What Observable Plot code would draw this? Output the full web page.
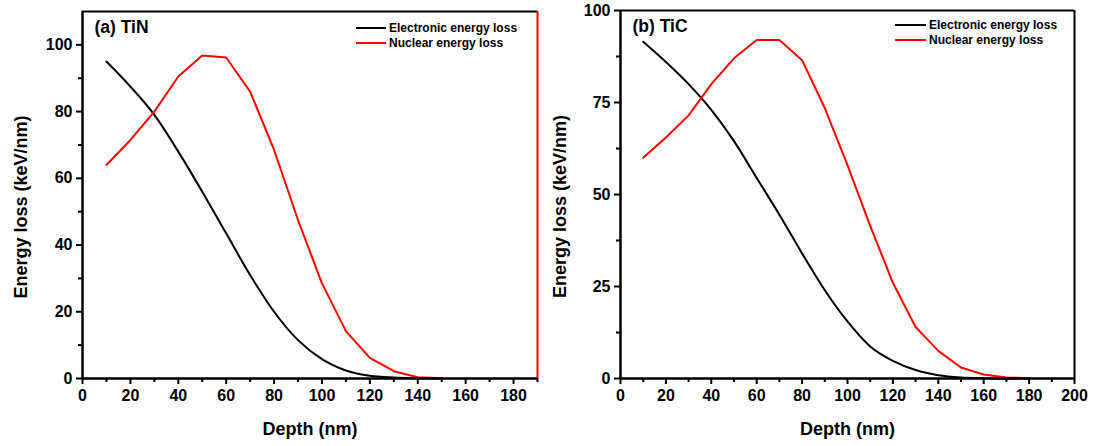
<!DOCTYPE html>
<html>
<head>
<meta charset="utf-8">
<script src="https://cdn.jsdelivr.net/npm/d3@7"></script>
<script src="https://cdn.jsdelivr.net/npm/@observablehq/plot@0.6"></script>
<style>
  body { margin: 0; background: white; }
  #wrap { position: relative; width: 1093px; height: 446px; overflow: hidden; font-family: "Liberation Sans", Arial, sans-serif; }
  .panel { position: absolute; top: 0; }
  .legend { position: absolute; font: bold 12px "Liberation Sans", Arial, sans-serif; color: #000; }
  .legend div { display: flex; align-items: center; height: 15px; white-space: nowrap; }
  .legend span.sw { display: inline-block; height: 2px; margin-right: 3px; }
</style>
</head>
<body>
<div id="wrap"></div>
<script>
// ---- Data ----
const seriesNames = ["Electronic energy loss", "Nuclear energy loss"];
const seriesColors = ["#000000", "#ff0000"];

// (a) TiN
const depthTiN = [10, 20, 30, 40, 50, 60, 70, 80, 90, 100, 110, 120, 130, 140, 150];
const elecTiN  = [95, 87.5, 79, 68, 56, 43.5, 31, 20, 11.5, 5.8, 2.4, 0.8, 0.3, 0.1, 0];
const nuclTiN  = [64, 71.5, 80, 90.5, 96.8, 96.2, 86, 68.5, 47.5, 28.5, 14.2, 6.2, 2.2, 0.4, 0.1];
const xTicksTiN = [0, 20, 40, 60, 80, 100, 120, 140, 160, 180];
const xMinorTiN = [10, 30, 50, 70, 90, 110, 130, 150, 170, 190];
const yTicksTiN = [0, 20, 40, 60, 80, 100];
const yMinorTiN = [10, 30, 50, 70, 90];

// (b) TiC
const depthTiC = [10, 20, 30, 40, 50, 60, 70, 80, 90, 100, 110, 120, 130, 140, 150, 160, 170, 180];
const elecTiC  = [91.5, 86, 80, 73, 64.5, 54.5, 44.5, 34, 24, 15.5, 8.7, 4.8, 2.3, 0.9, 0.3, 0.1, 0, 0];
const nuclTiC  = [60, 65.5, 71.5, 80, 87, 92, 92, 86.5, 73.5, 58, 41.5, 26, 14, 7.5, 3, 1.1, 0.3, 0.1];
const xTicksTiC = [0, 20, 40, 60, 80, 100, 120, 140, 160, 180, 200];
const xMinorTiC = [10, 30, 50, 70, 90, 110, 130, 150, 170, 190];
const yTicksTiC = [0, 25, 50, 75, 100];
const yMinorTiC = [12.5, 37.5, 62.5, 87.5];

const xTitle = "Depth (nm)";
const yTitle = "Energy loss (keV/nm)";

function panel(cfg) {
  const elec = cfg.depth.map((d, i) => ({depth: d, value: cfg.elec[i]}));
  const nucl = cfg.depth.map((d, i) => ({depth: d, value: cfg.nucl[i]}));
  return Plot.plot({
    width: cfg.width,
    height: 446,
    marginLeft: cfg.marginLeft,
    marginRight: cfg.marginRight,
    marginTop: cfg.marginTop,
    marginBottom: 68,
    x: {domain: cfg.xDomain},
    y: {domain: cfg.yDomain},
    style: {fontFamily: "'Liberation Sans', Arial, sans-serif", fontWeight: "bold", background: "transparent", overflow: "visible", maxWidth: "none", color: "#000"},
    marks: [
      Plot.axisX({ticks: cfg.xTicks, tickSize: 6, tickPadding: 5, strokeWidth: 2, fontSize: 16, label: null, tickFormat: d => String(d)}),
      Plot.axisX({ticks: cfg.xMinor, tickSize: 4, strokeWidth: 2, label: null, tickFormat: () => ""}),
      Plot.axisY({ticks: cfg.yTicks, tickSize: 6, tickPadding: 4, strokeWidth: 2, fontSize: 16, label: null, tickFormat: d => String(d)}),
      Plot.axisY({ticks: cfg.yMinor, tickSize: 4, strokeWidth: 2, label: null, tickFormat: () => ""}),
      Plot.line(elec, {x: "depth", y: "value", stroke: seriesColors[0], strokeWidth: 2, curve: "monotone-x"}),
      Plot.line(nucl, {x: "depth", y: "value", stroke: seriesColors[1], strokeWidth: 2}),
      Plot.ruleY([cfg.yDomain[1]], {stroke: "#000", strokeWidth: 2}),
      Plot.ruleX([cfg.xDomain[1]], {stroke: cfg.rightColor, strokeWidth: 2}),
      Plot.ruleX([cfg.xDomain[0]], {stroke: "#000", strokeWidth: 2.5}),
      Plot.ruleY([cfg.yDomain[0]], {stroke: "#000", strokeWidth: 2.5}),
      Plot.text([cfg.label], {frameAnchor: "top-left", dx: 12, dy: 9, lineAnchor: "top", textAnchor: "start", fontSize: 17.5, fill: "#000"}),
      Plot.text([yTitle], {frameAnchor: "left", rotate: -90, textAnchor: "middle", dx: cfg.yTitleDx, dy: 12, fontSize: 18, fill: "#000"}),
      Plot.text([xTitle], {frameAnchor: "bottom", dy: 56, fontSize: 18, fill: "#000"})
    ]
  });
}

const wrap = document.getElementById("wrap");

const left = panel({
  depth: depthTiN, elec: elecTiN, nucl: nuclTiN,
  xDomain: [0, 190], yDomain: [0, 110],
  xTicks: xTicksTiN, xMinor: xMinorTiN, yTicks: yTicksTiN, yMinor: yMinorTiN,
  label: "(a) TiN", rightColor: "#ff0000",
  width: 545, marginLeft: 82, marginRight: 8, marginTop: 11, yTitleDx: -61
});
left.classList.add("panel");
left.style.left = "0px";
wrap.appendChild(left);

const right = panel({
  depth: depthTiC, elec: elecTiC, nucl: nuclTiC,
  xDomain: [0, 200], yDomain: [0, 100],
  xTicks: xTicksTiC, xMinor: xMinorTiC, yTicks: yTicksTiC, yMinor: yMinorTiC,
  label: "(b) TiC", rightColor: "#000000",
  width: 553, marginLeft: 80, marginRight: 19, marginTop: 10, yTitleDx: -60
});
right.classList.add("panel");
right.style.left = "540px";
wrap.appendChild(right);

function legend(x, y, lineW) {
  const lg = document.createElement("div");
  lg.className = "legend";
  lg.style.left = x + "px";
  lg.style.top = y + "px";
  seriesNames.forEach((name, i) => {
    const row = document.createElement("div");
    const sw = document.createElement("span");
    sw.className = "sw";
    sw.style.width = lineW + "px";
    sw.style.background = seriesColors[i];
    row.appendChild(sw);
    row.appendChild(document.createTextNode(name));
    lg.appendChild(row);
  });
  wrap.appendChild(lg);
}
legend(356, 20, 30);
legend(895, 17, 31);
</script>
</body>
</html>
